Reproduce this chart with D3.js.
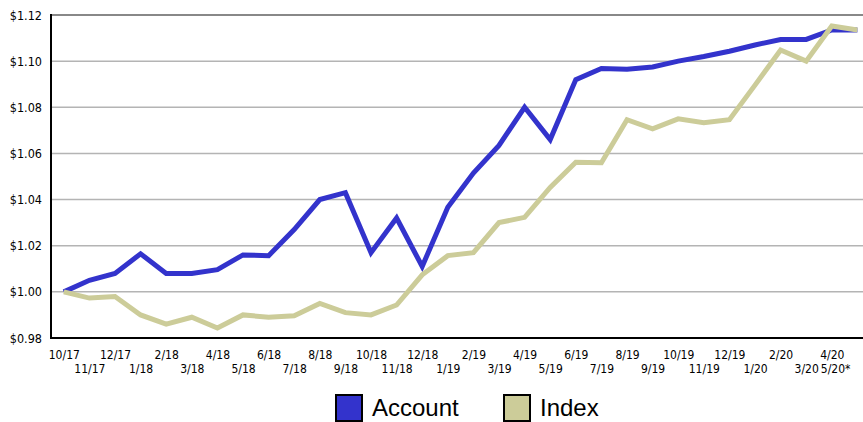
<!DOCTYPE html>
<html>
<head>
<meta charset="utf-8">
<script src="https://cdn.jsdelivr.net/npm/d3@7"></script>
<style>
  body { margin: 0; background: #fff; }
  svg { display: block; }
</style>
</head>
<body>
<div id="chart"></div>
<script>
(function() {
var months = ["10/17", "11/17", "12/17", "1/18", "2/18", "3/18", "4/18", "5/18", "6/18", "7/18",
  "8/18", "9/18", "10/18", "11/18", "12/18", "1/19", "2/19", "3/19", "4/19", "5/19",
  "6/19", "7/19", "8/19", "9/19", "10/19", "11/19", "12/19", "1/20", "2/20", "3/20",
  "4/20", "5/20*"];

var account = [1.000, 1.005, 1.008, 1.0165, 1.008, 1.008, 1.0096, 1.016, 1.0157, 1.027,
  1.040, 1.043, 1.017, 1.032, 1.011, 1.0367, 1.0515, 1.0635, 1.080, 1.066,
  1.092, 1.0968, 1.0965, 1.0975, 1.100, 1.102, 1.1043, 1.107, 1.1094, 1.1094,
  1.1135, 1.1135];

var index = [1.000, 0.9973, 0.998, 0.990, 0.986, 0.989, 0.9843, 0.990, 0.989, 0.9896,
  0.995, 0.991, 0.990, 0.9943, 1.0074, 1.0157, 1.017, 1.030, 1.0323, 1.0453,
  1.0562, 1.056, 1.0746, 1.0707, 1.075, 1.0733, 1.0746, 1.0896, 1.1048, 1.100,
  1.1152, 1.1135];

var yTicks = [0.98, 1.00, 1.02, 1.04, 1.06, 1.08, 1.10, 1.12];

var seriesNames = ["Account", "Index"];
var seriesColors = ["#3333cc", "#cccc99"];

var W = 863, H = 422;
var mLeft = 51, mTop = 15, mBottom = 338;
var tickFont = "'DejaVu Sans Condensed', 'DejaVu Sans', sans-serif";

var svg = d3.select("#chart").append("svg")
  .attr("width", W)
  .attr("height", H);

// plot runs a little past the right edge of the window, like the original
var x = d3.scalePoint().domain(months).range([mLeft, mLeft + 819.2]).padding(0.5);
var y = d3.scaleLinear().domain([0.98, 1.12]).range([mBottom, mTop]);

// gridlines
svg.append("g")
  .selectAll("line")
  .data(yTicks.slice(1))
  .enter().append("line")
  .attr("x1", mLeft)
  .attr("x2", W)
  .attr("y1", function(d) { return y(d); })
  .attr("y2", function(d) { return y(d); })
  .attr("stroke", function(d) { return d === 1.12 ? "#888" : "#b4b4b4"; })
  .attr("stroke-width", function(d) { return d === 1.12 ? 2 : 1.5; });

// y axis labels
var yAxis = svg.append("g")
  .attr("transform", "translate(" + mLeft + ",0)")
  .call(d3.axisLeft(y).tickValues(yTicks).tickSize(0).tickPadding(9)
    .tickFormat(function(d) { return "$" + d3.format(".2f")(d); }));
yAxis.select(".domain").remove();
yAxis.attr("font-family", tickFont).attr("font-size", 12.5);
yAxis.selectAll("text").attr("fill", "#000");

// x axis labels, staggered
var xAxis = svg.append("g")
  .attr("transform", "translate(0," + mBottom + ")")
  .call(d3.axisBottom(x).tickSize(0).tickPadding(0));
xAxis.select(".domain").remove();
xAxis.attr("font-family", tickFont).attr("font-size", 12);
xAxis.selectAll(".tick text")
  .attr("fill", "#000")
  .attr("y", function(d, i) { return i % 2 === 0 ? 12.5 : 26; })
  .attr("dy", "0.71em");
xAxis.selectAll(".tick").filter(function(d) { return d === "5/20*"; })
  .select("text")
  .attr("text-anchor", "end")
  .attr("x", 850 - x("5/20*"));

// lines
var line = d3.line()
  .x(function(d, i) { return x(months[i]); })
  .y(function(d) { return y(d); });

[account, index].forEach(function(s, k) {
  svg.append("path")
    .datum(s)
    .attr("fill", "none")
    .attr("stroke", seriesColors[k])
    .attr("stroke-width", 5)
    .attr("stroke-linejoin", "miter")
    .attr("d", line);
});

// frame: left and bottom axis lines
svg.append("line")
  .attr("x1", mLeft).attr("x2", mLeft)
  .attr("y1", mTop - 1).attr("y2", mBottom + 1)
  .attr("stroke", "#000").attr("stroke-width", 2);
svg.append("line")
  .attr("x1", mLeft - 1).attr("x2", W)
  .attr("y1", mBottom).attr("y2", mBottom)
  .attr("stroke", "#000").attr("stroke-width", 2);

// legend
var legend = svg.append("g")
  .attr("font-family", "'Liberation Sans', Arial, sans-serif")
  .attr("font-size", 24);
var legX = [336, 504];
seriesNames.forEach(function(name, k) {
  legend.append("rect")
    .attr("x", legX[k])
    .attr("y", 395)
    .attr("width", 26)
    .attr("height", 26)
    .attr("fill", seriesColors[k])
    .attr("stroke", "#000")
    .attr("stroke-width", 2);
  legend.append("text")
    .attr("x", legX[k] + 36)
    .attr("y", 416)
    .attr("fill", "#000")
    .text(name);
});
})();
</script>
</body>
</html>
